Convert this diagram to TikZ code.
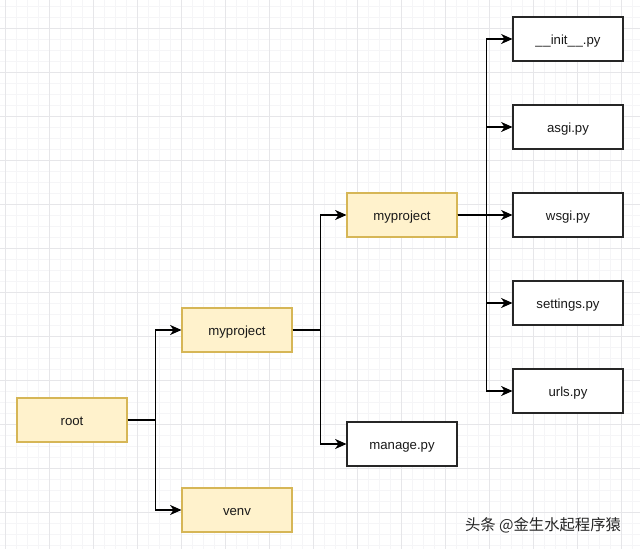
\documentclass[tikz,border=0pt]{standalone}
\usepackage{fontspec}
\setmainfont{Liberation Sans}
\newfontfamily\cjk{Noto Sans CJK SC}
\usetikzlibrary{arrows.meta}
\definecolor{dirfill}{HTML}{FFF2CC}
\definecolor{dirline}{HTML}{D6B656}
\definecolor{gridminor}{HTML}{F5F5F7}
\definecolor{gridmajor}{HTML}{E6E6E9}
\tikzset{
  box/.style={draw, line width=0.8pt, minimum width=82.5pt, minimum height=33pt,
    inner sep=0pt, text height=9pt, text depth=0.8pt,
    font=\fontsize{9.9pt}{12pt}\selectfont, text=black!90},
  dirbox/.style={box, fill=dirfill, draw=dirline},
  filebox/.style={box, fill=white, draw=black!85},
  link/.style={line width=1.1pt, -{Stealth[length=8.5pt,width=7.5pt,inset=2.5pt]}},
}
\begin{document}
\begin{tikzpicture}[x=0.75pt, y=-0.75pt]
  \useasboundingbox (0,0) rectangle (640,549);
  \fill[white] (0,0) rectangle (640,549);
  % background grid
  \foreach \gx in {5,16,...,640} \draw[gridminor, line width=0.5pt] (\gx,0) -- (\gx,549);
  \foreach \gy in {6,17,...,549} \draw[gridminor, line width=0.5pt] (0,\gy) -- (640,\gy);
  \foreach \gx in {5,49,...,640} \draw[gridmajor, line width=0.7pt] (\gx,0) -- (\gx,549);
  \foreach \gy in {28,72,...,549} \draw[gridmajor, line width=0.7pt] (0,\gy) -- (640,\gy);

  \node[dirbox] (root) at (72,420) {root};
  \node[dirbox] (proj) at (237,330) {myproject};
  \node[dirbox] (venv) at (237,510) {venv};
  \node[dirbox] (pkg) at (402,215) {myproject};
  \node[filebox] (manage) at (402,444) {manage.py};
  \node[filebox] (init) at (568,39) {\_\kern0.5pt\_init\_\kern0.5pt\_.py};
  \node[filebox] (asgi) at (568,127) {asgi.py};
  \node[filebox] (wsgi) at (568,215) {wsgi.py};
  \node[filebox] (settings) at (568,303) {settings.py};
  \node[filebox] (urls) at (568,391) {urls.py};

  \draw[link] (root.east) -- ++(28,0) |- (proj.west);
  \draw[link] (root.east) -- ++(28,0) |- (venv.west);
  \draw[link] (proj.east) -- ++(28,0) |- (pkg.west);
  \draw[link] (proj.east) -- ++(28,0) |- (manage.west);
  \foreach \f in {init,asgi,wsgi,settings,urls}
    \draw[link] (pkg.east) -- ++(29,0) |- (\f.west);

  \node[text=black!85, font=\cjk\fontsize{11.5pt}{14pt}\selectfont] (mark) at (543,525) {头条 @金生水起程序猿};
\end{tikzpicture}
\end{document}
